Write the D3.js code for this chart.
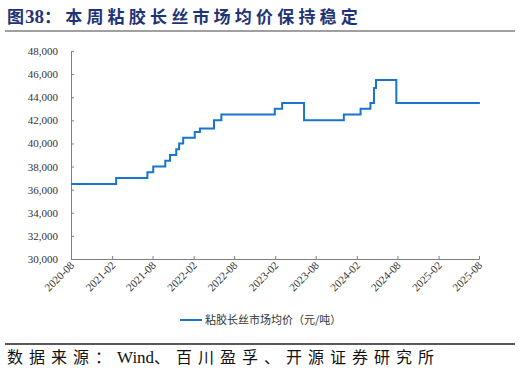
<!DOCTYPE html>
<html>
<head>
<meta charset="utf-8">
<script src="https://cdn.jsdelivr.net/npm/d3@7"></script>
<style>
  body { margin: 0; background: #fff; }
  svg { display: block; }
</style>
</head>
<body>
<div id="chart"></div>
<script>
// price change points (step series), 元/吨
var dates = ["2020-08-01", "2021-02-19", "2021-07-09", "2021-08-04", "2021-09-27", "2021-10-18",
  "2021-11-15", "2021-11-28", "2021-12-16", "2022-02-06", "2022-03-01", "2022-05-03",
  "2022-06-05", "2023-01-30", "2023-03-04", "2023-06-10", "2023-12-05", "2024-02-18",
  "2024-04-02", "2024-04-18", "2024-04-27", "2024-07-27", "2025-08-05"];
var prices = [36500, 37000, 37500, 38000, 38500, 39000,
  39500, 40000, 40500, 41000, 41300, 42000,
  42500, 43000, 43500, 42000, 42500, 43000,
  43500, 44800, 45500, 43500, 43500];
var tickLabels = ["2020-08", "2021-02", "2021-08", "2022-02", "2022-08", "2023-02",
  "2023-08", "2024-02", "2024-08", "2025-02", "2025-08"];
var yTicks = [30000, 32000, 34000, 36000, 38000, 40000, 42000, 44000, 46000, 48000];
var seriesName = "粘胶长丝市场均价（元/吨）";

var width = 521, height = 374;
var parse = d3.timeParse("%Y-%m-%d");
var parseM = d3.timeParse("%Y-%m");

var data = dates.map(function(d, i) { return { date: parse(d), value: prices[i] }; });

var svg = d3.select('#chart').append('svg')
  .attr('width', width)
  .attr('height', height);

var cjkFont = '"Noto Sans CJK SC", sans-serif';
var axisFont = '"Liberation Serif", "Times New Roman", serif';

// title, CJK spaced out, digits not
var title = svg.append('text')
  .attr('x', 7).attr('y', 23)
  .attr('font-family', cjkFont)
  .attr('font-weight', 'bold')
  .attr('font-size', 17)
  .attr('fill', '#1f3477');
title.append('tspan').attr('letter-spacing', 1).text("图");
title.append('tspan').attr('font-family', axisFont).attr('font-size', 19).text("38");
title.append('tspan').attr('letter-spacing', 4.2).text("：本周粘胶长丝市场均价保持稳定");

svg.append('line')
  .attr('x1', 5).attr('x2', 515).attr('y1', 31).attr('y2', 31)
  .attr('stroke', '#808080').attr('stroke-width', 1.5);

var x = d3.scaleTime()
  .domain([parseM("2020-08"), parseM("2025-08")])
  .range([71, 479]);
var y = d3.scaleLinear()
  .domain([30000, 48000])
  .range([259, 51]);

// y axis
var yAxis = svg.append('g')
  .attr('transform', 'translate(71,0)')
  .call(d3.axisRight(y).tickValues(yTicks).tickSize(3).tickFormat(''));
yAxis.select('.domain').attr('stroke', '#808080');
yAxis.selectAll('.tick line').attr('stroke', '#808080');

svg.selectAll('.ylab').data(yTicks).enter()
  .append('text')
  .attr('class', 'ylab')
  .attr('x', 58)
  .attr('y', function(d) { return y(d) + 4; })
  .attr('text-anchor', 'end')
  .attr('font-family', axisFont)
  .attr('font-size', 11)
  .attr('fill', '#333')
  .text(function(d) { return d3.format(",")(d); });

// x axis
var xAxis = svg.append('g')
  .attr('transform', 'translate(0,259)')
  .call(d3.axisTop(x).tickValues(tickLabels.map(parseM)).tickSize(3).tickFormat(''));
xAxis.select('.domain').attr('stroke', '#808080');
xAxis.selectAll('.tick line').attr('stroke', '#808080');

svg.selectAll('.xlab').data(tickLabels).enter()
  .append('text')
  .attr('class', 'xlab')
  .attr('text-anchor', 'end')
  .attr('font-family', axisFont)
  .attr('font-size', 11)
  .attr('fill', '#333')
  .attr('transform', function(d) {
    return 'translate(' + (x(parseM(d)) + 4) + ',266) rotate(-45)';
  })
  .text(function(d) { return d; });

// line
var line = d3.line()
  .x(function(d) { return x(d.date); })
  .y(function(d) { return y(d.value); })
  .curve(d3.curveStepAfter);

svg.append('path')
  .datum(data)
  .attr('d', line)
  .attr('fill', 'none')
  .attr('stroke', '#1874cd')
  .attr('stroke-width', 2);

// legend
svg.append('line')
  .attr('x1', 180).attr('x2', 202).attr('y1', 320).attr('y2', 320)
  .attr('stroke', '#1874cd').attr('stroke-width', 2);
svg.append('text')
  .attr('x', 205).attr('y', 324)
  .attr('font-family', cjkFont)
  .attr('font-size', 11)
  .attr('fill', '#333')
  .text(seriesName);

// footer
svg.append('line')
  .attr('x1', 5).attr('x2', 515).attr('y1', 344).attr('y2', 344)
  .attr('stroke', '#222').attr('stroke-width', 1.5);
var src = svg.append('text')
  .attr('x', 7).attr('y', 363)
  .attr('font-family', cjkFont)
  .attr('font-size', 16)
  .attr('fill', '#111');
src.append('tspan').attr('letter-spacing', 6).text("数据来源：");
src.append('tspan').attr('font-family', axisFont).attr('font-size', 17).text("Wind");
src.append('tspan').attr('letter-spacing', 6).text("、百川盈孚、开源证券研究所");
</script>
</body>
</html>
